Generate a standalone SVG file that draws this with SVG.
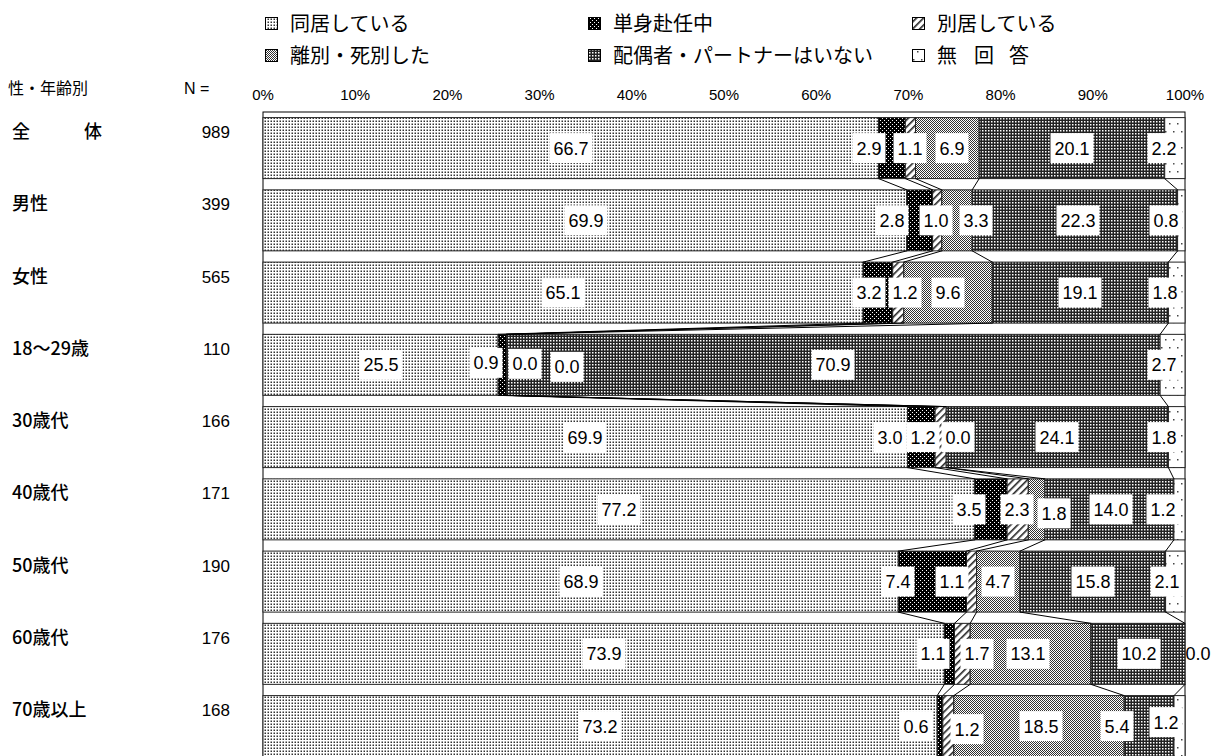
<svg xmlns="http://www.w3.org/2000/svg" width="1218" height="756" viewBox="0 0 1218 756">
<defs>
<style>
.jp{font-family:"Noto Sans CJK JP","Noto Sans CJK SC",sans-serif;fill:#000}
.lg{font-size:20px}
.cat{font-size:18px;font-weight:500}
.num{font-family:"Liberation Sans",Arial,sans-serif;fill:#000}
.ax{font-size:15px;text-anchor:middle}
.nv{font-size:17px;text-anchor:end}
.seg{stroke:#222;stroke-width:1}
.ico{stroke:#000;stroke-width:1}
.bx{fill:#fff}
.lt{font-family:"Liberation Sans",Arial,sans-serif;font-size:18px;text-anchor:middle;fill:#000}
.sl{stroke:#000;stroke-width:1;fill:none}
</style>
<pattern id="p1" patternUnits="userSpaceOnUse" width="3" height="3">
<rect width="3" height="3" fill="#fff"/><rect x="0.5" y="0.5" width="1.5" height="1.5" fill="#333"/>
</pattern>
<pattern id="p2" patternUnits="userSpaceOnUse" width="4" height="4">
<rect width="4" height="4" fill="#000"/><rect x="0" y="0" width="1" height="1" fill="#fff"/><rect x="2" y="2" width="1" height="1" fill="#fff"/>
</pattern>
<pattern id="p3" patternUnits="userSpaceOnUse" width="5" height="5" patternTransform="rotate(45)">
<rect width="5" height="5" fill="#fff"/><rect x="0" y="0" width="1.6" height="5" fill="#222"/>
</pattern>
<pattern id="p4" patternUnits="userSpaceOnUse" width="2" height="2">
<rect width="2" height="2" fill="#fff"/><rect x="0" y="0" width="1" height="1" fill="#333"/><rect x="1" y="1" width="1" height="1" fill="#333"/>
</pattern>
<pattern id="p5" patternUnits="userSpaceOnUse" width="3" height="3">
<rect width="3" height="3" fill="#222"/><rect x="1" y="1" width="1.5" height="1.5" fill="#fff"/>
</pattern>
<pattern id="p6" patternUnits="userSpaceOnUse" width="8" height="16">
<rect width="8" height="16" fill="#fff"/><rect x="5" y="3" width="1.5" height="1.5" fill="#444"/><rect x="1" y="11" width="1.5" height="1.5" fill="#444"/>
</pattern>
</defs>
<rect width="1218" height="756" fill="#fff"/>

<g id="legend">
<rect class="ico" x="265.5" y="17.5" width="12" height="12" fill="url(#p1)"/>
<text class="jp lg" x="290" y="31">同居している</text>
<rect class="ico" x="588.5" y="17.5" width="12" height="12" fill="url(#p2)"/>
<text class="jp lg" x="613" y="31">単身赴任中</text>
<rect class="ico" x="912.5" y="17.5" width="12" height="12" fill="url(#p3)"/>
<text class="jp lg" x="937" y="31">別居している</text>
<rect class="ico" x="265.5" y="49.5" width="12" height="12" fill="url(#p4)"/>
<text class="jp lg" x="290" y="63">離別・死別した</text>
<rect class="ico" x="588.5" y="49.5" width="12" height="12" fill="url(#p5)"/>
<text class="jp lg" x="613" y="63">配偶者・パートナーはいない</text>
<rect class="ico" x="912.5" y="49.5" width="12" height="12" fill="url(#p6)"/>
<text class="jp lg" y="63"><tspan x="937">無</tspan><tspan x="974">回</tspan><tspan x="1009">答</tspan></text>
</g>

<g id="axis">
<text class="num ax" x="263" y="100">0%</text>
<text class="num ax" x="355.2" y="100">10%</text>
<text class="num ax" x="447.4" y="100">20%</text>
<text class="num ax" x="539.6" y="100">30%</text>
<text class="num ax" x="631.8" y="100">40%</text>
<text class="num ax" x="724" y="100">50%</text>
<text class="num ax" x="816.2" y="100">60%</text>
<text class="num ax" x="908.4" y="100">70%</text>
<text class="num ax" x="1000.6" y="100">80%</text>
<text class="num ax" x="1092.8" y="100">90%</text>
<text class="num ax" x="1185" y="100">100%</text>
<rect x="263" y="112" width="922" height="660" fill="none" stroke="#000" stroke-width="1"/>
</g>

<g id="row-labels">
<text class="jp" style="font-size:16px" x="8" y="94">性・年齢別</text>
<text class="num" style="font-size:16px" x="184" y="94">N =</text>
<text class="jp cat" y="138"><tspan x="12">全</tspan><tspan x="84">体</tspan></text>
<text class="num nv" x="230" y="138">989</text>
<text class="jp cat" x="12" y="210.25">男性</text>
<text class="num nv" x="230" y="210.25">399</text>
<text class="jp cat" x="12" y="282.5">女性</text>
<text class="num nv" x="230" y="282.5">565</text>
<text class="jp cat" x="12" y="354.75">18〜29歳</text>
<text class="num nv" x="230" y="354.75">110</text>
<text class="jp cat" x="12" y="427">30歳代</text>
<text class="num nv" x="230" y="427">166</text>
<text class="jp cat" x="12" y="499.25">40歳代</text>
<text class="num nv" x="230" y="499.25">171</text>
<text class="jp cat" x="12" y="571.5">50歳代</text>
<text class="num nv" x="230" y="571.5">190</text>
<text class="jp cat" x="12" y="643.75">60歳代</text>
<text class="num nv" x="230" y="643.75">176</text>
<text class="jp cat" x="12" y="716">70歳以上</text>
<text class="num nv" x="230" y="716">168</text>
</g>

<g id="bar-all">
<rect class="seg" x="263" y="117.6" width="615.6" height="61" fill="url(#p1)"/>
<rect class="seg" x="878.6" y="117.6" width="26.7" height="61" fill="url(#p2)"/>
<rect class="seg" x="905.3" y="117.6" width="10.2" height="61" fill="url(#p3)"/>
<rect class="seg" x="915.5" y="117.6" width="63.7" height="61" fill="url(#p4)"/>
<rect class="seg" x="979.2" y="117.6" width="185.5" height="61" fill="url(#p5)"/>
<rect class="seg" x="1164.7" y="117.6" width="20.3" height="61" fill="url(#p6)"/>
</g>
<g id="bar-male">
<rect class="seg" x="263" y="189.85" width="643.8" height="61" fill="url(#p1)"/>
<rect class="seg" x="906.8" y="189.85" width="25.8" height="61" fill="url(#p2)"/>
<rect class="seg" x="932.6" y="189.85" width="9.2" height="61" fill="url(#p3)"/>
<rect class="seg" x="941.8" y="189.85" width="30.4" height="61" fill="url(#p4)"/>
<rect class="seg" x="972.2" y="189.85" width="205.4" height="61" fill="url(#p5)"/>
<rect class="seg" x="1177.6" y="189.85" width="7.4" height="61" fill="url(#p6)"/>
</g>
<g id="bar-female">
<rect class="seg" x="263" y="262.1" width="600.2" height="61" fill="url(#p1)"/>
<rect class="seg" x="863.2" y="262.1" width="29.5" height="61" fill="url(#p2)"/>
<rect class="seg" x="892.7" y="262.1" width="11.1" height="61" fill="url(#p3)"/>
<rect class="seg" x="903.8" y="262.1" width="88.5" height="61" fill="url(#p4)"/>
<rect class="seg" x="992.3" y="262.1" width="176.1" height="61" fill="url(#p5)"/>
<rect class="seg" x="1168.4" y="262.1" width="16.6" height="61" fill="url(#p6)"/>
</g>
<g id="bar-18-29">
<rect class="seg" x="263" y="334.35" width="235.1" height="61" fill="url(#p1)"/>
<rect class="seg" x="498.1" y="334.35" width="8.3" height="61" fill="url(#p2)"/>
<rect class="seg" x="506.4" y="334.35" width="0" height="61" fill="url(#p3)"/>
<rect class="seg" x="506.4" y="334.35" width="0" height="61" fill="url(#p4)"/>
<rect class="seg" x="506.4" y="334.35" width="653.7" height="61" fill="url(#p5)"/>
<rect class="seg" x="1160.1" y="334.35" width="24.9" height="61" fill="url(#p6)"/>
</g>
<g id="bar-30s">
<rect class="seg" x="263" y="406.6" width="644.5" height="61" fill="url(#p1)"/>
<rect class="seg" x="907.5" y="406.6" width="27.6" height="61" fill="url(#p2)"/>
<rect class="seg" x="935.1" y="406.6" width="11.1" height="61" fill="url(#p3)"/>
<rect class="seg" x="946.2" y="406.6" width="0" height="61" fill="url(#p4)"/>
<rect class="seg" x="946.2" y="406.6" width="222.2" height="61" fill="url(#p5)"/>
<rect class="seg" x="1168.4" y="406.6" width="16.6" height="61" fill="url(#p6)"/>
</g>
<g id="bar-40s">
<rect class="seg" x="263" y="478.85" width="711.8" height="61" fill="url(#p1)"/>
<rect class="seg" x="974.8" y="478.85" width="32.3" height="61" fill="url(#p2)"/>
<rect class="seg" x="1007.1" y="478.85" width="21.2" height="61" fill="url(#p3)"/>
<rect class="seg" x="1028.3" y="478.85" width="16.6" height="61" fill="url(#p4)"/>
<rect class="seg" x="1044.9" y="478.85" width="129" height="61" fill="url(#p5)"/>
<rect class="seg" x="1173.9" y="478.85" width="11.1" height="61" fill="url(#p6)"/>
</g>
<g id="bar-50s">
<rect class="seg" x="263" y="551.1" width="635.3" height="61" fill="url(#p1)"/>
<rect class="seg" x="898.3" y="551.1" width="68.2" height="61" fill="url(#p2)"/>
<rect class="seg" x="966.5" y="551.1" width="10.1" height="61" fill="url(#p3)"/>
<rect class="seg" x="976.6" y="551.1" width="43.4" height="61" fill="url(#p4)"/>
<rect class="seg" x="1020" y="551.1" width="145.6" height="61" fill="url(#p5)"/>
<rect class="seg" x="1165.6" y="551.1" width="19.4" height="61" fill="url(#p6)"/>
</g>
<g id="bar-60s">
<rect class="seg" x="263" y="623.35" width="681.4" height="61" fill="url(#p1)"/>
<rect class="seg" x="944.4" y="623.35" width="10.1" height="61" fill="url(#p2)"/>
<rect class="seg" x="954.5" y="623.35" width="15.7" height="61" fill="url(#p3)"/>
<rect class="seg" x="970.2" y="623.35" width="120.7" height="61" fill="url(#p4)"/>
<rect class="seg" x="1090.9" y="623.35" width="94.1" height="61" fill="url(#p5)"/>
</g>
<g id="bar-70plus">
<rect class="seg" x="263" y="695.6" width="674.2" height="61" fill="url(#p1)"/>
<rect class="seg" x="937.2" y="695.6" width="5.6" height="61" fill="url(#p2)"/>
<rect class="seg" x="942.8" y="695.6" width="11" height="61" fill="url(#p3)"/>
<rect class="seg" x="953.8" y="695.6" width="170.4" height="61" fill="url(#p4)"/>
<rect class="seg" x="1124.2" y="695.6" width="49.8" height="61" fill="url(#p5)"/>
<rect class="seg" x="1174" y="695.6" width="11" height="61" fill="url(#p6)"/>
</g>

<g id="connectors">
<path class="sl" d="M878.6 178.6L906.8 189.85M905.3 178.6L932.6 189.85M915.5 178.6L941.8 189.85M979.2 178.6L972.2 189.85M1164.7 178.6L1177.6 189.85"/>
<path class="sl" d="M906.8 250.85L863.2 262.1M932.6 250.85L892.7 262.1M941.8 250.85L903.8 262.1M972.2 250.85L992.3 262.1M1177.6 250.85L1168.4 262.1"/>
<path class="sl" d="M863.2 323.1L498.1 334.35M892.7 323.1L506.4 334.35M903.8 323.1L506.4 334.35M992.3 323.1L506.4 334.35M1168.4 323.1L1160.1 334.35"/>
<path class="sl" d="M498.1 395.35L907.5 406.6M506.4 395.35L935.1 406.6M506.4 395.35L946.2 406.6M506.4 395.35L946.2 406.6M1160.1 395.35L1168.4 406.6"/>
<path class="sl" d="M907.5 467.6L974.8 478.85M935.1 467.6L1007.1 478.85M946.2 467.6L1028.3 478.85M946.2 467.6L1044.9 478.85M1168.4 467.6L1173.9 478.85"/>
<path class="sl" d="M974.8 539.85L898.3 551.1M1007.1 539.85L966.5 551.1M1028.3 539.85L976.6 551.1M1044.9 539.85L1020 551.1M1173.9 539.85L1165.6 551.1"/>
<path class="sl" d="M898.3 612.1L944.4 623.35M966.5 612.1L954.5 623.35M976.6 612.1L970.2 623.35M1020 612.1L1090.9 623.35M1165.6 612.1L1185 623.35"/>
<path class="sl" d="M944.4 684.35L937.2 695.6M954.5 684.35L942.8 695.6M970.2 684.35L953.8 695.6M1090.9 684.35L1124.2 695.6M1185 684.35L1174 695.6"/>
</g>

<g id="value-labels">
<rect class="bx" x="549.5" y="133.1" width="43" height="30"/><text class="lt" x="571" y="154.6">66.7</text>
<rect class="bx" x="852.5" y="133.1" width="33" height="30"/><text class="lt" x="869" y="154.6">2.9</text>
<rect class="bx" x="893.5" y="133.1" width="33" height="30"/><text class="lt" x="910" y="154.6">1.1</text>
<rect class="bx" x="935.5" y="133.1" width="33" height="30"/><text class="lt" x="952" y="154.6">6.9</text>
<rect class="bx" x="1050.5" y="133.1" width="43" height="30"/><text class="lt" x="1072" y="154.6">20.1</text>
<rect class="bx" x="1147.5" y="133.1" width="33" height="30"/><text class="lt" x="1164" y="154.6">2.2</text>

<rect class="bx" x="564.5" y="205.35" width="43" height="30"/><text class="lt" x="586" y="226.85">69.9</text>
<rect class="bx" x="875.5" y="205.35" width="33" height="30"/><text class="lt" x="892" y="226.85">2.8</text>
<rect class="bx" x="919.5" y="205.35" width="33" height="30"/><text class="lt" x="936" y="226.85">1.0</text>
<rect class="bx" x="959.5" y="205.35" width="33" height="30"/><text class="lt" x="976" y="226.85">3.3</text>
<rect class="bx" x="1056.5" y="205.35" width="43" height="30"/><text class="lt" x="1078" y="226.85">22.3</text>
<rect class="bx" x="1149.5" y="205.35" width="33" height="30"/><text class="lt" x="1166" y="226.85">0.8</text>

<rect class="bx" x="541.5" y="277.6" width="43" height="30"/><text class="lt" x="563" y="299.1">65.1</text>
<rect class="bx" x="852.5" y="277.6" width="33" height="30"/><text class="lt" x="869" y="299.1">3.2</text>
<rect class="bx" x="888.5" y="277.6" width="33" height="30"/><text class="lt" x="905" y="299.1">1.2</text>
<rect class="bx" x="931.5" y="277.6" width="33" height="30"/><text class="lt" x="948" y="299.1">9.6</text>
<rect class="bx" x="1058.5" y="277.6" width="43" height="30"/><text class="lt" x="1080" y="299.1">19.1</text>
<rect class="bx" x="1148.5" y="277.6" width="33" height="30"/><text class="lt" x="1165" y="299.1">1.8</text>

<rect class="bx" x="359.5" y="349.85" width="43" height="30"/><text class="lt" x="381" y="371.35">25.5</text>
<rect class="bx" x="469.5" y="347.85" width="33" height="30"/><text class="lt" x="486" y="369.35">0.9</text>
<rect class="bx" x="508.5" y="348.85" width="33" height="30"/><text class="lt" x="525" y="370.35">0.0</text>
<rect class="bx" x="550.5" y="351.85" width="33" height="30"/><text class="lt" x="567" y="373.35">0.0</text>
<rect class="bx" x="811.5" y="349.85" width="43" height="30"/><text class="lt" x="833" y="371.35">70.9</text>
<rect class="bx" x="1147.5" y="349.85" width="33" height="30"/><text class="lt" x="1164" y="371.35">2.7</text>

<rect class="bx" x="563.5" y="422.1" width="43" height="30"/><text class="lt" x="585" y="443.6">69.9</text>
<rect class="bx" x="873.5" y="422.1" width="33" height="30"/><text class="lt" x="890" y="443.6">3.0</text>
<rect class="bx" x="906.5" y="422.1" width="33" height="30"/><text class="lt" x="923" y="443.6">1.2</text>
<rect class="bx" x="941.5" y="422.1" width="33" height="30"/><text class="lt" x="958" y="443.6">0.0</text>
<rect class="bx" x="1035.5" y="422.1" width="43" height="30"/><text class="lt" x="1057" y="443.6">24.1</text>
<rect class="bx" x="1147.5" y="422.1" width="33" height="30"/><text class="lt" x="1164" y="443.6">1.8</text>

<rect class="bx" x="597.5" y="494.35" width="43" height="30"/><text class="lt" x="619" y="515.85">77.2</text>
<rect class="bx" x="952.5" y="494.35" width="33" height="30"/><text class="lt" x="969" y="515.85">3.5</text>
<rect class="bx" x="1000.5" y="494.35" width="33" height="30"/><text class="lt" x="1017" y="515.85">2.3</text>
<rect class="bx" x="1037.5" y="498.35" width="33" height="30"/><text class="lt" x="1054" y="519.85">1.8</text>
<rect class="bx" x="1089.5" y="494.35" width="43" height="30"/><text class="lt" x="1111" y="515.85">14.0</text>
<rect class="bx" x="1146.5" y="494.35" width="33" height="30"/><text class="lt" x="1163" y="515.85">1.2</text>

<rect class="bx" x="559.5" y="566.6" width="43" height="30"/><text class="lt" x="581" y="588.1">68.9</text>
<rect class="bx" x="881.5" y="566.6" width="33" height="30"/><text class="lt" x="898" y="588.1">7.4</text>
<rect class="bx" x="935.5" y="566.6" width="33" height="30"/><text class="lt" x="952" y="588.1">1.1</text>
<rect class="bx" x="981.5" y="566.6" width="33" height="30"/><text class="lt" x="998" y="588.1">4.7</text>
<rect class="bx" x="1071.5" y="566.6" width="43" height="30"/><text class="lt" x="1093" y="588.1">15.8</text>
<rect class="bx" x="1150.5" y="566.6" width="33" height="30"/><text class="lt" x="1167" y="588.1">2.1</text>

<rect class="bx" x="582.5" y="638.85" width="43" height="30"/><text class="lt" x="604" y="660.35">73.9</text>
<rect class="bx" x="916.5" y="638.85" width="33" height="30"/><text class="lt" x="933" y="660.35">1.1</text>
<rect class="bx" x="960.5" y="638.85" width="33" height="30"/><text class="lt" x="977" y="660.35">1.7</text>
<rect class="bx" x="1006.5" y="638.85" width="43" height="30"/><text class="lt" x="1028" y="660.35">13.1</text>
<rect class="bx" x="1117.5" y="638.85" width="43" height="30"/><text class="lt" x="1139" y="660.35">10.2</text>
<text class="lt" x="1198" y="660.35">0.0</text>

<rect class="bx" x="578.5" y="711.1" width="43" height="30"/><text class="lt" x="600" y="732.6">73.2</text>
<rect class="bx" x="899.5" y="711.1" width="33" height="30"/><text class="lt" x="916" y="732.6">0.6</text>
<rect class="bx" x="950.5" y="714.1" width="33" height="30"/><text class="lt" x="967" y="735.6">1.2</text>
<rect class="bx" x="1019.5" y="711.1" width="43" height="30"/><text class="lt" x="1041" y="732.6">18.5</text>
<rect class="bx" x="1100.5" y="711.1" width="33" height="30"/><text class="lt" x="1117" y="732.6">5.4</text>
<rect class="bx" x="1149.5" y="707.1" width="33" height="30"/><text class="lt" x="1166" y="728.6">1.2</text>
</g>
</svg>
